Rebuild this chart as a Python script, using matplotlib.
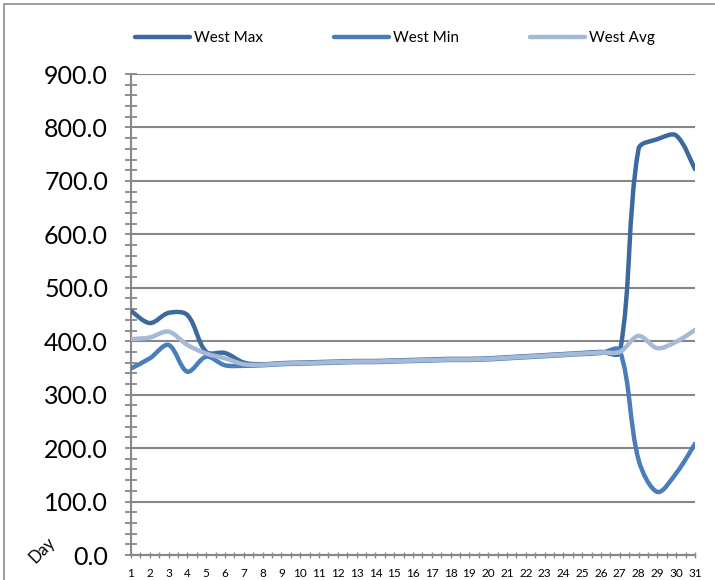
import numpy as np
import matplotlib
matplotlib.use('Agg')
import matplotlib.pyplot as plt
from matplotlib.path import Path
from matplotlib.patches import PathPatch, Rectangle
from matplotlib.lines import Line2D
from matplotlib.ticker import MultipleLocator, FormatStrFormatter

plt.rcParams['font.family'] = ['Lato', 'DejaVu Sans']

days = list(range(1, 32))
west_max = [457, 434, 453, 449, 380, 378, 360, 357, 359, 360, 361, 362, 363, 363,
            364, 365, 366, 367, 367, 368, 370, 372, 374, 376, 378, 380, 379,
            760, 778, 785, 722]
west_min = [349, 368, 393, 343, 371, 355, 354, 355, 357, 358, 359, 360, 361, 361,
            362, 363, 364, 365, 365, 366, 368, 370, 372, 374, 376, 378, 383,
            178, 118, 153, 208]
west_avg = [404, 407, 418, 393, 377, 368, 357, 356, 358, 359, 360, 361, 362, 362,
            363, 364, 365, 366, 366, 367, 369, 371, 373, 375, 377, 379, 380,
            410, 387, 399, 421]

series = [('West Max', west_max, '#3d6a9e'),
          ('West Min', west_min, '#4a7ebb'),
          ('West Avg', west_avg, '#a6b9d7')]


def smooth_path(ax, x, y):
    # smoothed line like Excel: bezier segments, tangents scaled by chord length
    pts = ax.transData.transform(np.column_stack([x, y]))
    n = len(pts)
    verts = [pts[0]]
    codes = [Path.MOVETO]
    for i in range(n - 1):
        p0 = pts[max(i - 1, 0)]
        p1 = pts[i]
        p2 = pts[i + 1]
        p3 = pts[min(i + 2, n - 1)]
        d01 = np.hypot(*(p1 - p0))
        d12 = np.hypot(*(p2 - p1))
        d23 = np.hypot(*(p3 - p2))
        t1 = (p2 - p0) * (d12 / (d01 + d12) if d01 > 0 else 0.5)
        t2 = (p3 - p1) * (d12 / (d12 + d23) if d23 > 0 else 0.5)
        verts += [p1 + t1 / 3, p2 - t2 / 3, p2]
        codes += [Path.CURVE4] * 3
    verts = ax.transData.inverted().transform(np.array(verts))
    return Path(verts, codes)


fig = plt.figure(figsize=(7.15, 5.8), dpi=100)
ax = fig.add_axes([0.1832, 0.0431, 0.7888, 0.8293])
ax.set_xlim(1, 31)
ax.set_ylim(0, 900)

grid_c = '#878787'
for name, vals, col in series:
    patch = PathPatch(smooth_path(ax, days, vals), facecolor='none', edgecolor=col,
                      lw=3.2, capstyle='round', joinstyle='round', zorder=3)
    ax.add_patch(patch)

ax.yaxis.set_major_locator(MultipleLocator(100))
ax.yaxis.set_minor_locator(MultipleLocator(20))
ax.set_xticks(days)
ax.set_xticklabels([str(d) for d in days])
ax.xaxis.set_minor_locator(MultipleLocator(0.5))
ax.yaxis.set_major_formatter(FormatStrFormatter('%.1f'))

ax.grid(axis='y', color=grid_c, lw=1.5, zorder=1)
ax.set_axisbelow(True)
for s in ['top', 'right']:
    ax.spines[s].set_visible(False)
for s in ['left', 'bottom']:
    ax.spines[s].set_color(grid_c)
    ax.spines[s].set_linewidth(1.5)

ax.tick_params(axis='y', which='both', direction='inout', length=9, width=1.3,
               color=grid_c, labelsize=18, pad=12)
ax.tick_params(axis='x', which='both', direction='inout', length=5, width=1.0,
               color=grid_c, labelsize=8.5, pad=7)

fig.text(42 / 715, 1 - 550 / 580, 'Day', rotation=45, fontsize=12,
         ha='center', va='center')

handles = [Line2D([], [], color=c, lw=3.2, solid_capstyle='round') for _, _, c in series]
fig.legend(handles, [n for n, _, _ in series], loc='center', ncol=3,
           bbox_to_anchor=(0.552, 0.934), frameon=False, fontsize=11,
           handlelength=3.6, handletextpad=0.25, columnspacing=4.65)

fig.patches.append(Rectangle((4 / 715, -0.1), 1.2, 1 - 4 / 580 + 0.1,
                             transform=fig.transFigure, fill=False,
                             edgecolor='#8c8c8c', lw=1.2))

fig.savefig('out.png', dpi=100)
